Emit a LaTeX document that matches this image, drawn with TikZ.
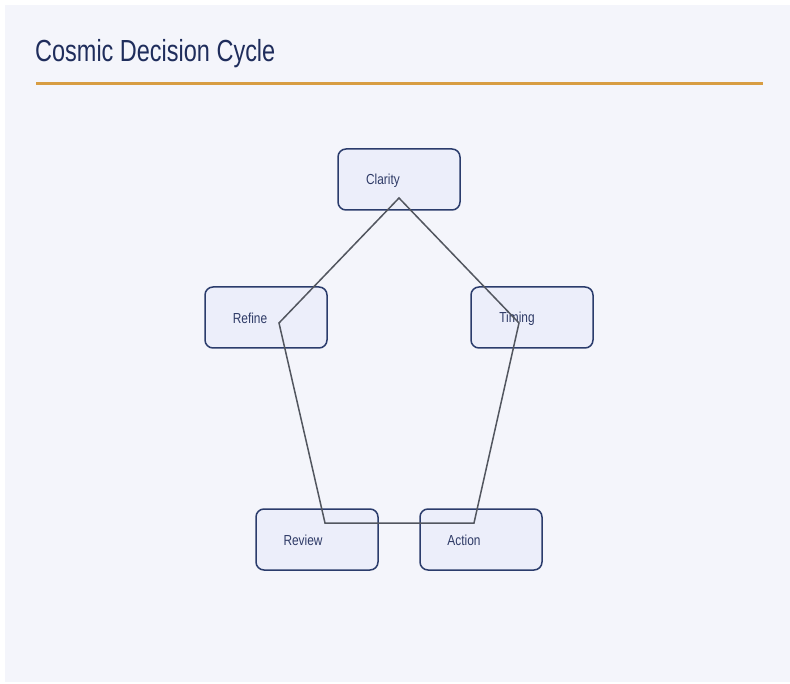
\documentclass[tikz,border=0pt]{standalone}
\usepackage{fontspec}
\setmainfont{Liberation Sans}
\usetikzlibrary{calc}
\definecolor{pagebg}{HTML}{F4F5FB}
\definecolor{titleblue}{HTML}{1F2D5C}
\definecolor{rulegold}{HTML}{D89D42}
\definecolor{boxfill}{HTML}{ECEEFA}
\definecolor{boxline}{HTML}{2B3C6C}
\definecolor{boxtext}{HTML}{2E3A66}
\definecolor{cycleline}{HTML}{52565F}
\tikzset{
  stagebox/.style={draw=boxline, fill=boxfill, line width=1.5pt, rounded corners=8pt,
    minimum width=122pt, minimum height=61pt, inner sep=0pt},
  stagelabel/.style={text=boxtext, font=\fontsize{14.5}{16}\selectfont, inner sep=0pt},
  cycle/.style={draw=cycleline, line width=1.5pt, line join=miter},
}
\newcommand{\narrow}[1]{\scalebox{0.82}[1]{#1}}
\begin{document}
\begin{tikzpicture}[x=1pt,y=-1pt]
  \useasboundingbox (0,0) rectangle (790,684);
  \fill[white] (0,0) rectangle (790,684);
  \fill[pagebg] (5,5) rectangle (790,682);

  % heading and rule
  \node[anchor=base west, text=titleblue, inner sep=0pt,
        font=\fontsize{30.5}{34}\selectfont] (title) at (35,61.5) {\scalebox{0.77}[1]{Cosmic Decision Cycle}};
  \draw[rulegold, line width=3pt] (36,84) -- (763,84);

  % stage boxes
  \node[stagebox] (clarity) at (399,179.5) {};
  \node[stagebox] (refine)  at (266,317.5) {};
  \node[stagebox] (timing)  at (532,317.5) {};
  \node[stagebox] (review)  at (317,539.5) {};
  \node[stagebox] (action)  at (481,539.5) {};

  % cycle corner points inside each box
  \coordinate (pc) at ($(clarity.center)+(0,18.5)$);
  \coordinate (pt) at ($(timing.center)+(-13,5.5)$);
  \coordinate (pa) at ($(action.center)+(-7,-16.5)$);
  \coordinate (pv) at ($(review.center)+(8,-16.5)$);
  \coordinate (pr) at ($(refine.center)+(13,5.5)$);

  % labels
  \node[stagelabel] (lclarity) at ($(clarity.center)+(-16,1)$) {\narrow{Clarity}};
  \node[stagelabel] (lrefine)  at ($(refine.center)+(-16,1)$)  {\narrow{Refine}};
  \node[stagelabel] (ltiming)  at ($(timing.center)+(-15,1)$)  {\narrow{Timing}};
  \node[stagelabel] (lreview)  at ($(review.center)+(-14,1)$)  {\narrow{Review}};
  \node[stagelabel] (laction)  at ($(action.center)+(-17,1)$)  {\narrow{Action}};

  % the cycle
  \draw[cycle] (pc) -- (pt) -- (pa) -- (pv) -- (pr) -- cycle;
\end{tikzpicture}
\end{document}
